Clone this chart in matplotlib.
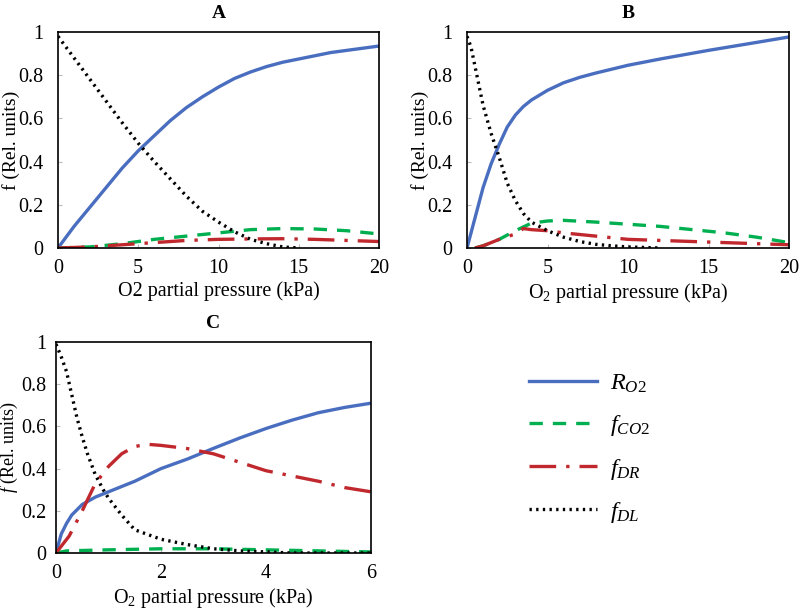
import numpy as np
import matplotlib
matplotlib.use("Agg")
import matplotlib.pyplot as plt

plt.rcParams['font.family'] = ['Liberation Serif', 'DejaVu Serif']
plt.rcParams['mathtext.fontset'] = 'custom'
plt.rcParams['mathtext.rm'] = 'Liberation Serif'
plt.rcParams['mathtext.it'] = 'Liberation Serif:italic'

# Panel A
xa_r = [0, 1, 2, 3, 4, 5, 6, 7, 8, 9, 10, 11, 12, 13, 14, 15, 16, 17, 18, 19, 20]
ya_r = [0, 0.1, 0.19, 0.28, 0.37, 0.45, 0.52, 0.59, 0.65, 0.70, 0.745, 0.785, 0.815, 0.84, 0.86, 0.875, 0.89, 0.905, 0.915, 0.925, 0.935]
xa_dl = [0, 1, 2, 3, 4, 5, 6, 7, 8, 9, 10, 11, 12, 13, 14, 15]
ya_dl = [0.98, 0.88, 0.78, 0.68, 0.58, 0.485, 0.40, 0.32, 0.24, 0.17, 0.12, 0.075, 0.04, 0.02, 0.005, 0]
xa_c = [0, 2, 4, 6, 8, 10, 12, 14, 16, 18, 20]
ya_c = [0, 0.005, 0.02, 0.04, 0.055, 0.07, 0.085, 0.09, 0.088, 0.08, 0.065]
ya_dr = [0, 0.005, 0.015, 0.025, 0.035, 0.04, 0.042, 0.043, 0.04, 0.035, 0.03]

# Panel B
xb_r = [0, 0.5, 1, 1.5, 2, 2.5, 3, 3.5, 4, 5, 6, 7, 8, 10, 12, 15, 18, 20]
yb_r = [0, 0.14, 0.28, 0.39, 0.48, 0.56, 0.615, 0.655, 0.685, 0.73, 0.765, 0.79, 0.81, 0.846, 0.875, 0.915, 0.952, 0.977]
xb_dl = [0, 0.25, 0.5, 1, 1.5, 2, 2.5, 3, 3.5, 4, 5, 6, 7, 8, 9, 10, 12]
yb_dl = [0.98, 0.93, 0.84, 0.66, 0.53, 0.42, 0.3, 0.22, 0.16, 0.12, 0.08, 0.05, 0.03, 0.017, 0.01, 0.005, 0]
xb_c = [0.5, 1, 2, 3, 4, 5, 6, 8, 10, 12, 14, 16, 18, 20]
yb_c = [0, 0.01, 0.04, 0.08, 0.115, 0.125, 0.128, 0.12, 0.11, 0.1, 0.085, 0.07, 0.05, 0.025]
xb_dr = [0.5, 1, 2, 3, 3.5, 4, 5, 6, 8, 10, 12, 14, 16, 18, 20]
yb_dr = [0, 0.01, 0.04, 0.065, 0.09, 0.085, 0.08, 0.07, 0.055, 0.04, 0.035, 0.03, 0.025, 0.02, 0.015]

# Panel C
xc_r = [0, 0.1, 0.2, 0.3, 0.5, 0.75, 1, 1.5, 2, 2.5, 3, 3.5, 4, 4.5, 5, 5.5, 6]
yc_r = [0, 0.09, 0.14, 0.18, 0.23, 0.265, 0.29, 0.34, 0.40, 0.445, 0.496, 0.545, 0.59, 0.63, 0.665, 0.69, 0.71]
xc_dr = [0, 0.25, 0.5, 0.75, 1, 1.25, 1.5, 1.75, 2, 2.5, 3, 3.5, 4, 4.5, 5, 5.5, 6]
yc_dr = [0, 0.08, 0.2, 0.33, 0.41, 0.47, 0.505, 0.515, 0.51, 0.495, 0.47, 0.43, 0.39, 0.365, 0.34, 0.31, 0.29]
xc_dl = [0, 0.1, 0.2, 0.3, 0.4, 0.5, 0.6, 0.75, 0.9, 1, 1.25, 1.5, 2, 2.5, 3, 3.5, 4, 4.5, 6]
yc_dl = [0.99, 0.93, 0.86, 0.75, 0.64, 0.55, 0.47, 0.37, 0.3, 0.26, 0.18, 0.11, 0.065, 0.04, 0.02, 0.01, 0.005, 0, 0]
xc_c = [0, 0.2, 1, 2, 3, 4, 5, 6]
yc_c = [0, 0.01, 0.015, 0.02, 0.02, 0.015, 0.01, 0.005]

blue = '#4A6EBF'
green = '#00B050'
red = '#C0282D'
lw = 2.4
dash_g = (0, (4, 3))
dash_r = (0, (8, 3, 1, 3))
dot_k = (0, (0.7, 1.3))

fig = plt.figure(figsize=(8, 6.09), dpi=100)
W, H = 800, 609


def make_ax(l, r, t, b):
    return fig.add_axes([l / W, 1 - b / H, (r - l) / W, (b - t) / H])


def style(ax, xmax, xticks, title, xlabel, ylabel, ylab_px, ylab_size=14, ypad=10.5):
    ax.set_xlim(0, xmax)
    ax.set_ylim(0, 1)
    ax.set_xticks(xticks)
    ax.set_yticks([0, 0.2, 0.4, 0.6, 0.8, 1])
    ax.set_yticklabels(['0', '0.2', '0.4', '0.6', '0.8', '1'])
    ax.tick_params(direction='in', length=3, color='#bbbbbb', labelsize=14.5)
    ax.tick_params(axis='x', pad=8)
    ax.tick_params(axis='y', pad=ypad)
    for s in ax.spines.values():
        s.set_linewidth(1.2)
    ax.set_title(title, fontweight='bold', fontsize=14, pad=10)
    ax.set_xlabel(xlabel, fontsize=14.5, labelpad=2)
    ax.set_ylabel(ylabel, fontsize=ylab_size)
    # right edge of the rotated label, in pixels from the figure's left edge
    w = ax.get_position().width * W
    x0 = ax.get_position().x0 * W
    ax.yaxis.set_label_coords((ylab_px - x0) / w, 0.5)


axA = make_ax(58, 379, 32, 248)
axA.plot(xa_r, ya_r, color=blue, lw=lw)
axA.plot(xa_c, ya_c, color=green, lw=lw, ls=dash_g)
axA.plot(xa_c, ya_dr, color=red, lw=lw, ls=dash_r)
axA.plot(xa_dl, ya_dl, color='black', lw=lw, ls=dot_k)
style(axA, 20, [0, 5, 10, 15, 20], 'A', 'O2 partial pressure (kPa)', 'f (Rel. units)', 20)

axB = make_ax(467, 789, 32, 248)
axB.plot(xb_r, yb_r, color=blue, lw=lw)
axB.plot(xb_c, yb_c, color=green, lw=lw, ls=dash_g)
axB.plot(xb_dr, yb_dr, color=red, lw=lw, ls=dash_r)
axB.plot(xb_dl, yb_dl, color='black', lw=lw, ls=dot_k)
style(axB, 20, [0, 5, 10, 15, 20], 'B', 'O$_2$ partial pressure (kPa)', 'f (Rel. units)', 429)

axC = make_ax(56, 371, 342, 553)
h1, = axC.plot(xc_r, yc_r, color=blue, lw=lw)
h2, = axC.plot(xc_c, yc_c, color=green, lw=lw, ls=dash_g)
h3, = axC.plot(xc_dr, yc_dr, color=red, lw=lw, ls=dash_r)
h4, = axC.plot(xc_dl, yc_dl, color='black', lw=lw, ls=dot_k)
style(axC, 6, [0, 2, 4, 6], 'C', 'O$_2$ partial pressure (kPa)', '$f$ (Rel. units)', 20.5, 13, 7)

fig.legend([h1, h2, h3, h4], ['$R_{O2}$', '$f_{CO2}$', '$f_{DR}$', '$f_{DL}$'],
           loc='upper left', bbox_to_anchor=(507 / W, 1 - 351 / H), frameon=False,
           fontsize=17.5, handlelength=2.8, handletextpad=0.55, labelspacing=0.75)

fig.savefig('out.png', dpi=100)
